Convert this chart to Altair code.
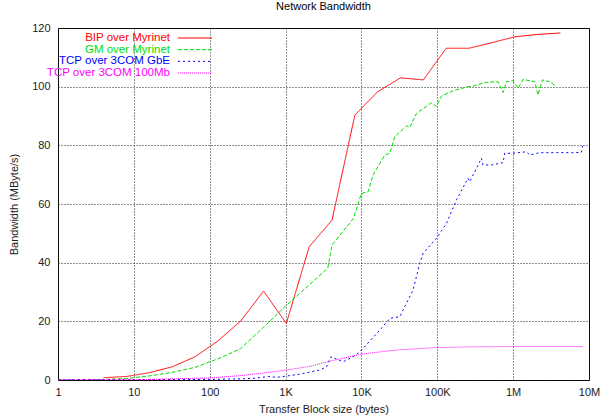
import altair as alt
import pandas as pd

# ---- data ----
series_names = ["BIP over Myrinet", "GM over Myrinet", "TCP over 3COM GbE", "TCP over 3COM 100Mb"]
series_colors = ["#ff0000", "#00e000", "#0000ff", "#ff00ff"]
series_dashes = [[1, 0], [4, 2], [2, 3], [1, 1]]

bip_x = [4, 8, 16, 32, 64, 128, 256, 512, 1024, 2048, 4096, 8192, 16384, 32768,
         65536, 131072, 262144, 524288, 1048576, 2097152, 4194304]
bip_y = [0.8, 1.2, 2.5, 4.5, 7.9, 13.3, 20.1, 30.3, 19.3, 45.4, 54.5, 90.3, 98.3, 103.0,
         102.3, 113.1, 113.1, 115.0, 117.0, 117.8, 118.3]

gm_x = [1, 2, 4, 8, 10, 16, 32, 64, 100, 128, 256, 512, 1000, 2048, 3600, 4096, 7800,
        10000, 12250, 14260, 20330, 23650, 27540, 39290, 43430, 53230, 83900, 97600,
        113600, 161500, 254600, 296400, 444800, 632400, 736700, 816000, 998000,
        1162000, 1352000, 1656000, 1928000, 2130000, 2432000, 3035000, 3722000]
gm_y = [0.05, 0.1, 0.2, 0.5, 0.8, 1.4, 2.6, 4.3, 6.2, 7.2, 10.7, 18.0, 25.2, 32.4, 38.1, 46.0, 55.0,
        63.6, 64.2, 69.9, 76.7, 77.3, 83.0, 86.6, 86.1, 90.9, 94.5, 93.3,
        96.8, 98.6, 100.0, 100.2, 101.5, 101.7, 98.0, 101.7, 102.0,
        99.4, 102.5, 102.0, 101.7, 97.2, 102.3, 101.7, 100.0]

gbe_x = [1, 10, 100, 256, 400, 600, 762, 1000, 1543, 2830, 3470, 3950, 5740, 7780, 9530,
         17470, 23650, 32050, 48000, 58750, 65000, 97600, 132200, 179000, 254600, 267900,
         382000, 401000, 517000, 736700, 774000, 998000, 1497000, 1656000, 2240000,
         6150000, 7940000, 8260000]
gbe_y = [0.05, 0.1, 0.2, 0.4, 0.6, 1.2, 0.9, 1.3, 2.0, 3.4, 4.5, 7.9, 6.2, 7.9, 9.6,
         17.0, 21.0, 21.6, 30.7, 39.8, 43.2, 48.3, 53.4, 61.4, 68.8, 67.6,
         75.6, 73.3, 73.3, 74.1, 77.3, 77.3, 77.8, 76.7, 77.5,
         77.5, 77.6, 79.8]

fe_x = [1, 10, 100, 256, 512, 1024, 2048, 4096, 10000, 23650, 32768, 89000, 262144,
        1048576, 8388608]
fe_y = [0.02, 0.05, 0.7, 1.5, 2.4, 3.4, 4.6, 6.6, 8.8, 10.0, 10.3, 11.0, 11.3,
        11.4, 11.4]

x_ticks = [1, 10, 100, 1000, 10000, 100000, 1000000, 10000000]
y_ticks = [0, 20, 40, 60, 80, 100, 120]

# ---- tables ----
frames = []
for name, xs, ys in [(series_names[0], bip_x, bip_y), (series_names[1], gm_x, gm_y),
                     (series_names[2], gbe_x, gbe_y), (series_names[3], fe_x, fe_y)]:
    frames.append(pd.DataFrame({"series": name, "size": xs, "bw": ys}))
df = pd.concat(frames, ignore_index=True)
legend_df = pd.DataFrame({"series": series_names, "order": list(range(len(series_names)))})

FONT = "Liberation Sans"
color_scale = alt.Scale(domain=series_names, range=series_colors)
dash_scale = alt.Scale(domain=series_names, range=series_dashes)

lines = alt.Chart(df).mark_line(strokeWidth=1, clip=True).encode(
    x=alt.X("size:Q",
            scale=alt.Scale(type="log", domain=[1, 1e7], nice=False),
            axis=alt.Axis(values=x_ticks, title="Transfer Block size (bytes)",
                          labelExpr="datum.value >= 1e6 ? format(datum.value/1e6,'d') + 'M' : (datum.value >= 1e3 ? format(datum.value/1e3,'d') + 'K' : format(datum.value,'d'))",
                          labelPadding=6, titlePadding=6, tickSize=0, domain=False,
                          grid=True, gridDash=[1, 2], gridColor="#222", gridOpacity=1,
                          labelFlush=False, labelOverlap=False)),
    y=alt.Y("bw:Q",
            scale=alt.Scale(domain=[0, 120], nice=False),
            axis=alt.Axis(values=y_ticks, title="Bandwidth (MByte/s)", tickSize=0,
                          labelPadding=8, titlePadding=12, domain=False,
                          grid=True, gridDash=[1, 2], gridColor="#222", gridOpacity=1)),
    color=alt.Color("series:N", scale=color_scale, legend=None),
    strokeDash=alt.StrokeDash("series:N", scale=dash_scale, legend=None),
    detail="series:N",
)

leg_y = alt.Y("series:N", sort=series_names,
              scale=alt.Scale(type="point", range=[10, 45], padding=0), axis=None)

leg_text = alt.Chart(legend_df).mark_text(align="right", baseline="middle", fontSize=11.5, font=FONT).encode(
    x=alt.value(112),
    y=leg_y,
    text="series:N",
    color=alt.Color("series:N", scale=color_scale, legend=None),
)
leg_rule = alt.Chart(legend_df).mark_rule(strokeWidth=1).encode(
    x=alt.value(120),
    x2=alt.value(154),
    y=leg_y,
    color=alt.Color("series:N", scale=color_scale, legend=None),
    strokeDash=alt.StrokeDash("series:N", scale=dash_scale, legend=None),
)

chart = alt.layer(lines, leg_text, leg_rule).resolve_scale(y="independent").properties(
    width=531,
    height=352,
    title=alt.Title("Network Bandwidth", fontSize=11, fontWeight="normal", font=FONT,
                    anchor="middle", offset=10, color="#000"),
    autosize=alt.AutoSizeParams(type="none"),
    padding={"left": 58, "top": 28, "right": 11, "bottom": 40},
).configure(
    background="white"
).configure_view(
    stroke="#000", strokeWidth=1
).configure_axis(
    labelFont=FONT, titleFont=FONT, labelFontSize=11, titleFontSize=11,
    labelColor="#222", titleColor="#222", titleFontWeight="normal",
)

chart.save("out.html", embed_options={"renderer": "svg", "actions": False})
